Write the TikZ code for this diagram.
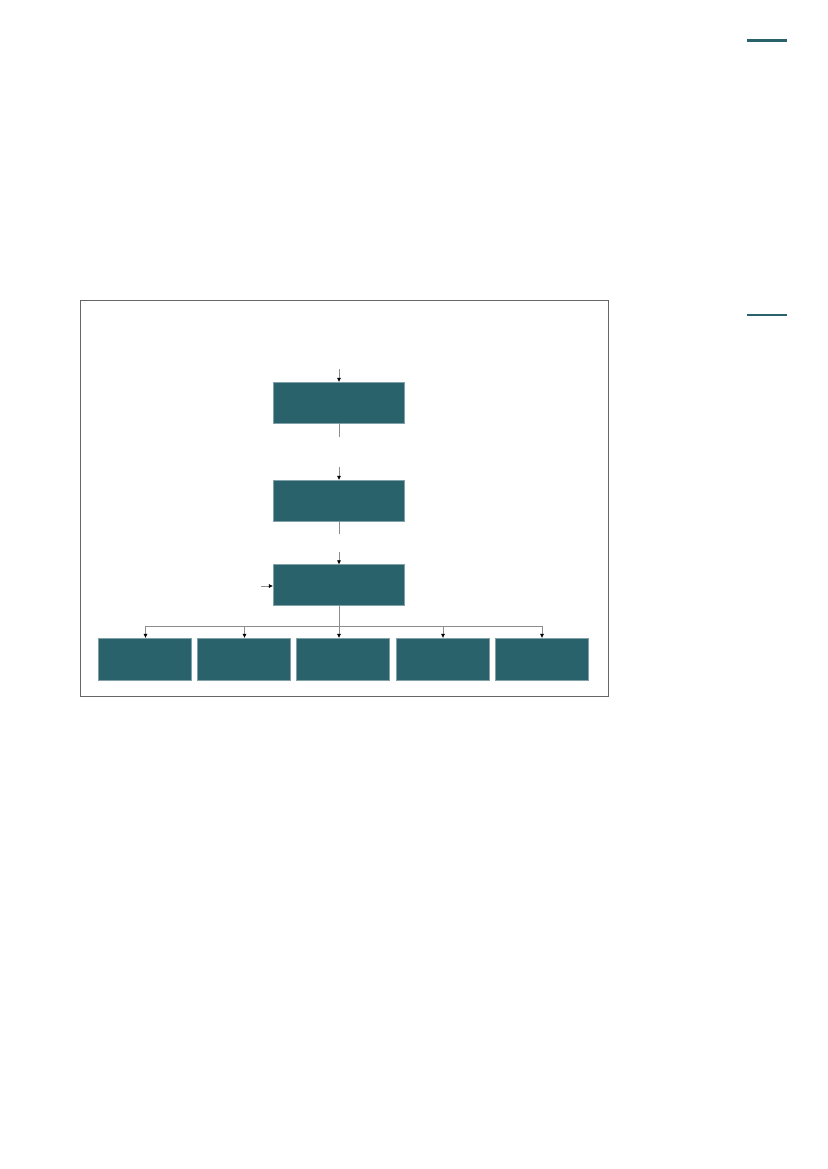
\documentclass[tikz,border=0pt]{standalone}
\usepackage{tikz}
\usetikzlibrary{positioning}
\usetikzlibrary{arrows.meta,calc}
\definecolor{teal}{HTML}{2A626C}
\tikzset{
    % Define arrow style
    pil/.style={
           -{Latex[black,length=3pt,width=3pt]},
           draw=black!45,
           line width=0.5pt,},
    stub/.style={
           draw=black!45,
           line width=0.5pt,},
    % Define box style
    blk/.style={
           fill=teal,
           draw=teal!60!white,
           line width=0.3pt,
           inner sep=0pt,
           outer sep=0pt,
           minimum width=94.3pt,
           minimum height=29.5pt,},
    sub/.style={
           blk,
           minimum width=67pt,
           minimum height=30.2pt,}
}
\begin{document}
\begin{tikzpicture}[x=0.72pt, y=-0.72pt, outer sep = 0pt]

%%%%%%%%%%%%%%%%%%%%%%%%%%%%%%%%%
\useasboundingbox (0,0) rectangle (827,1169);

% rules on the right
\draw [teal, line width=2.2pt] (747, 40.7) -- (786.7, 40.7);
\draw [teal, line width=1.4pt] (747, 315) -- (786.7, 315);

% frame
\draw [black!60, line width=0.6pt] (80.3,300.3) rectangle (608.3,696);

% main column
\node [blk] (Top) at (338.5, 402.5) {};
\node [blk] (Mid) at (338.5, 500.5) {};
\node [blk] (Low) at (338.5, 585) {};

% lower row
\node [sub] (S1) at (144.5, 659) {};
\node [sub] (S2) at (244, 659) {};
\node [sub] (S3) at (343, 659) {};
\node [sub] (S4) at (442.5, 659) {};
\node [sub] (S5) at (541.5, 659) {};

% free ends
\coordinate (TopIn)  at (339, 369);
\coordinate (TopOut) at (339, 436.5);
\coordinate (MidIn)  at (339, 467);
\coordinate (MidOut) at (339, 534);
\coordinate (LowIn)  at (339, 552);
\coordinate (Side)   at (261, 586);

% bus junctions
\coordinate (J1) at (145.5, 626);
\coordinate (J2) at (244.5, 626);
\coordinate (J3) at (339, 626);
\coordinate (J4) at (443, 626);
\coordinate (J5) at (542, 626);

% vertical flow
\draw [pil] (TopIn) -- (TopIn |- Top.north);
\draw [stub] (TopOut |- Top.south) -- (TopOut);
\draw [pil] (MidIn) -- (MidIn |- Mid.north);
\draw [stub] (MidOut |- Mid.south) -- (MidOut);
\draw [pil] (LowIn) -- (LowIn |- Low.north);
\draw [pil] (Side) -- (Side -| Low.west);

% branching
\draw [stub] (J3 |- Low.south) -- (J3);
\draw [stub] (J1) -- (J5);
\draw [pil] (J1) -- (J1 |- S1.north);
\draw [pil] (J2) -- (J2 |- S2.north);
\draw [pil] (J3) -- (J3 |- S3.north);
\draw [pil] (J4) -- (J4 |- S4.north);
\draw [pil] (J5) -- (J5 |- S5.north);

\end{tikzpicture}
\end{document}
